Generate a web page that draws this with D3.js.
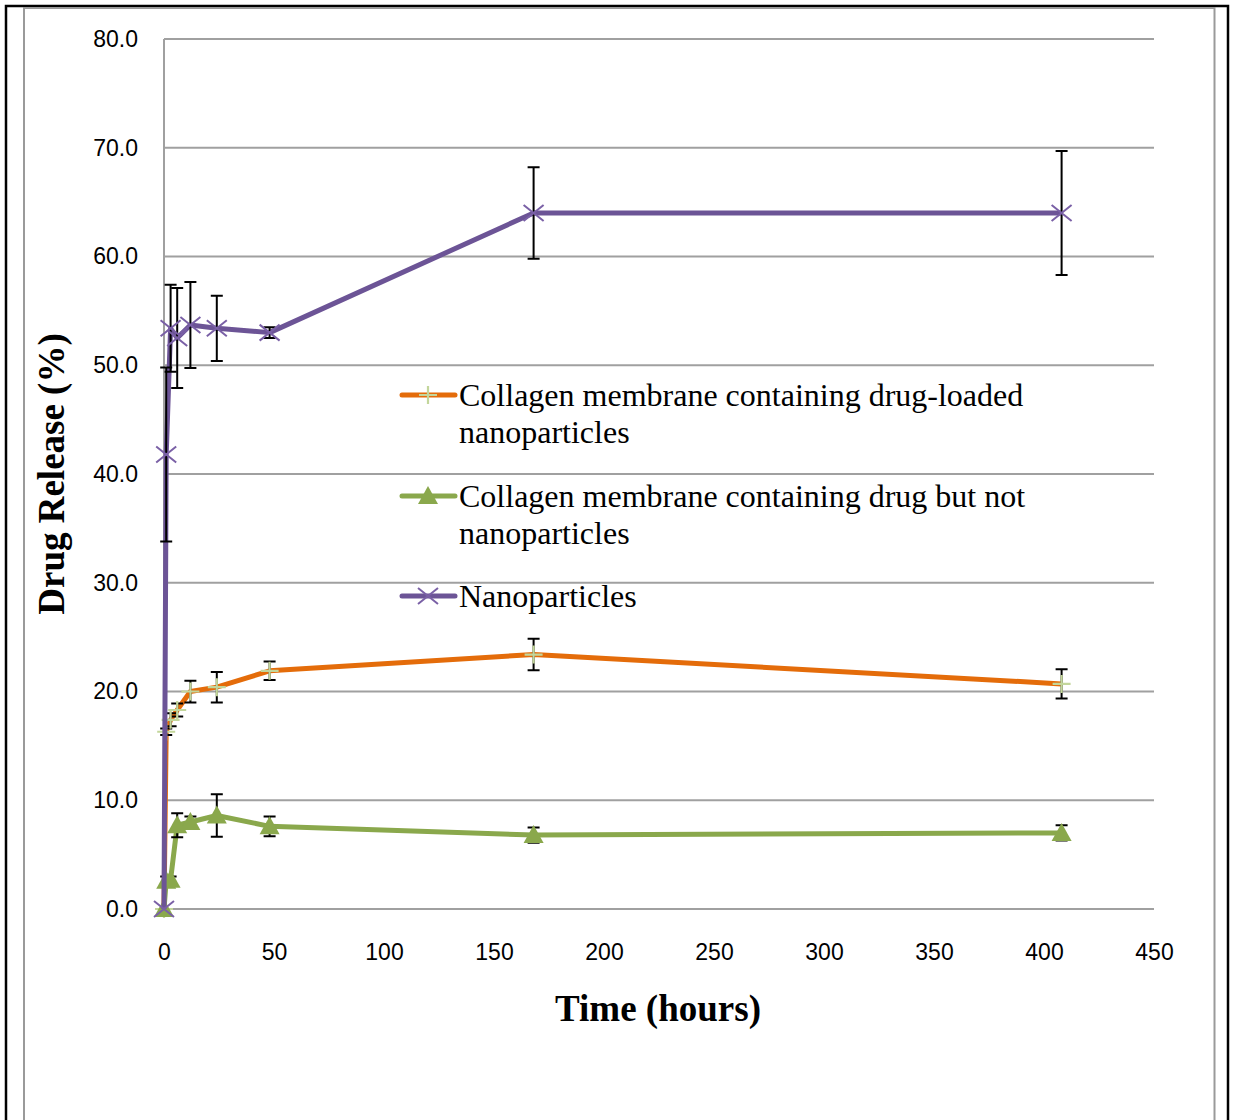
<!DOCTYPE html>
<html>
<head>
<meta charset="utf-8">
<script src="https://cdn.jsdelivr.net/npm/d3@7"></script>
<style>
  body { margin: 0; background: #fff; }
</style>
</head>
<body>
<div id="chart"></div>
<script>
// data
var hours = [0, 1, 3, 6, 12, 24, 48, 168, 408];

var loadedNp = [0, 16.3, 17.4, 18.3, 20.0, 20.4, 21.9, 23.4, 20.7];
var loadedNpErr = [0, 0.3, 0.6, 0.6, 1.0, 1.4, 0.85, 1.45, 1.35];

var drugOnly = [0, 2.6, 2.7, 7.7, 8.0, 8.6, 7.6, 6.8, 7.0];
var drugOnlyErr = [0, 0.4, 0.3, 1.1, 0.5, 1.95, 0.9, 0.7, 0.7];

var nanoOnly = [0, 41.8, 53.4, 52.5, 53.7, 53.4, 53.0, 64.0, 64.0];
var nanoOnlyErr = [0, 8.0, 4.0, 4.6, 3.95, 3.0, 0.5, 4.2, 5.7];

var xTicks = [0, 50, 100, 150, 200, 250, 300, 350, 400, 450];
var yTicks = [0, 10, 20, 30, 40, 50, 60, 70, 80];

var seriesNames = [
  ["Collagen membrane containing drug-loaded", "nanoparticles"],
  ["Collagen membrane containing drug but not", "nanoparticles"],
  ["Nanoparticles"]
];

var W = 1234, H = 1120;

var svg = d3.select("#chart")
  .append("svg")
    .attr("width", W)
    .attr("height", H);

// frames
svg.append("rect")
  .attr("x", 6).attr("y", 6).attr("width", 1222).attr("height", 1130)
  .attr("fill", "none").attr("stroke", "#000").attr("stroke-width", 2.5);
svg.append("rect")
  .attr("x", 24).attr("y", 8).attr("width", 1190.5).attr("height", 1130)
  .attr("fill", "none").attr("stroke", "#9a9a9a").attr("stroke-width", 2);

var x = d3.scaleLinear().domain([0, 450]).range([164, 1154]);
var y = d3.scaleLinear().domain([0, 80]).range([909, 39]);

// grid
svg.append("g").selectAll("line")
  .data(yTicks)
  .enter().append("line")
    .attr("x1", x(0)).attr("x2", x(450))
    .attr("y1", function(d) { return y(d); })
    .attr("y2", function(d) { return y(d); })
    .attr("stroke", "#a0a0a0").attr("stroke-width", 2);

svg.append("line")
  .attr("x1", x(0)).attr("x2", x(0))
  .attr("y1", y(0)).attr("y2", y(80))
  .attr("stroke", "#a0a0a0").attr("stroke-width", 2);

// axes
var yAxis = d3.axisLeft(y).tickValues(yTicks).tickSize(0).tickPadding(26)
  .tickFormat(d3.format(".1f"));
var gy = svg.append("g").attr("transform", "translate(" + x(0) + ",0)").call(yAxis);

var xAxis = d3.axisBottom(x).tickValues(xTicks).tickSize(0).tickPadding(35);
var gx = svg.append("g").attr("transform", "translate(0," + y(0) + ")").call(xAxis);

[gx, gy].forEach(function(g) {
  g.select(".domain").remove();
  g.selectAll("text")
    .attr("fill", "#000")
    .style("font-family", "'Liberation Sans', Arial, sans-serif")
    .style("font-size", "23px");
});

svg.append("text")
  .attr("x", 658).attr("y", 1021)
  .attr("text-anchor", "middle")
  .style("font-family", "'Liberation Serif', 'Times New Roman', serif")
  .style("font-weight", "bold")
  .style("font-size", "37px")
  .text("Time (hours)");

svg.append("text")
  .attr("transform", "translate(64,474) rotate(-90)")
  .attr("text-anchor", "middle")
  .style("font-family", "'Liberation Serif', 'Times New Roman', serif")
  .style("font-weight", "bold")
  .style("font-size", "37px")
  .text("Drug Release (%)");

// series
var series = [
  {vals: loadedNp, err: loadedNpErr, color: "#e46c0a", mark: "plus", mcolor: "#c3d69b"},
  {vals: drugOnly, err: drugOnlyErr, color: "#8aa84c", mark: "tri", mcolor: "#8aa84c"},
  {vals: nanoOnly, err: nanoOnlyErr, color: "#6c5496", mark: "cross", mcolor: "#7a60a6"}
];

var line = d3.line()
  .x(function(d) { return x(d.t); })
  .y(function(d) { return y(d.v); });

function drawMarker(g, kind, color) {
  if (kind === "plus") {
    g.append("path").attr("d", "M-9,0H9M0,-9V9")
      .attr("stroke", color).attr("stroke-width", 2.2).attr("fill", "none");
  } else if (kind === "tri") {
    g.append("path").attr("d", "M0,-10L10,8H-10Z").attr("fill", color);
  } else {
    g.append("path").attr("d", "M-10,-8L10,8M-10,8L10,-8")
      .attr("stroke", color).attr("stroke-width", 2).attr("fill", "none");
  }
}

series.forEach(function(s) {
  var pts = hours.map(function(t, i) { return {t: t, v: s.vals[i], e: s.err[i]}; });
  var g = svg.append("g");

  g.append("path")
    .datum(pts)
    .attr("d", line)
    .attr("fill", "none")
    .attr("stroke", s.color)
    .attr("stroke-width", 5)
    .attr("stroke-linejoin", "round");

  g.selectAll(".err")
    .data(pts.filter(function(d) { return d.e > 0; }))
    .enter().append("path")
      .attr("d", function(d) {
        var cx = x(d.t), t = y(d.v + d.e), b = y(d.v - d.e);
        return "M" + (cx - 6) + "," + t + "H" + (cx + 6) +
               "M" + cx + "," + t + "V" + b +
               "M" + (cx - 6) + "," + b + "H" + (cx + 6);
      })
      .attr("stroke", "#000").attr("stroke-width", 2).attr("fill", "none");

  g.selectAll(".mk")
    .data(pts)
    .enter().append("g")
      .attr("transform", function(d) { return "translate(" + x(d.t) + "," + y(d.v) + ")"; })
      .each(function() { drawMarker(d3.select(this), s.mark, s.mcolor); });
});

// legend
var legY = [395, 496, 596];
series.forEach(function(s, i) {
  var g = svg.append("g").attr("transform", "translate(0," + legY[i] + ")");
  g.append("line").attr("x1", 402).attr("x2", 455)
    .attr("stroke", s.color).attr("stroke-width", 5).attr("stroke-linecap", "round");
  var m = g.append("g").attr("transform", "translate(428,0)");
  drawMarker(m, s.mark, s.mcolor);
  seriesNames[i].forEach(function(txt, j) {
    g.append("text")
      .attr("x", 459).attr("y", 11 + j * 37)
      .style("font-family", "'Liberation Serif', 'Times New Roman', serif")
      .style("font-size", "32px")
      .attr("fill", "#000")
      .text(txt);
  });
});
</script>
</body>
</html>
